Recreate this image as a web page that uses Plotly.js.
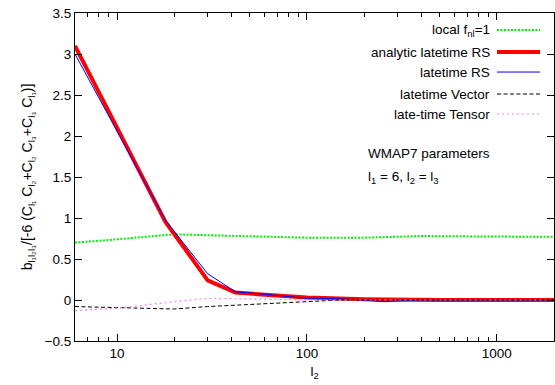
<!DOCTYPE html>
<html><head><meta charset="utf-8">
<script src="https://cdn.plot.ly/plotly-3.0.1.min.js"></script>
<style>body{margin:0;padding:0;background:#fff}#plot{width:555px;height:385px}</style>
</head><body><div id="plot"></div>
<script>
// data
const localL = [6, 8, 10, 14, 20, 30, 50, 100, 200, 400, 800, 2000];
const localV = [0.70, 0.72, 0.74, 0.77, 0.80, 0.79, 0.78, 0.76, 0.76, 0.78, 0.775, 0.77];
const anaL = [6, 18, 30, 42, 60, 100, 200, 500, 2000];
const anaV = [3.1, 0.95, 0.24, 0.09, 0.065, 0.03, 0.01, 0.0, 0.0];
const rsL = [6, 18, 30, 42, 60, 100, 130, 180, 250, 400, 1000, 2000];
const rsV = [3.0, 0.97, 0.32, 0.10, 0.07, 0.02, 0.02, 0.005, -0.02, 0.0, 0.0, 0.0];
const vecL = [6, 10, 20, 30, 60, 100, 150, 300, 2000];
const vecV = [-0.08, -0.09, -0.11, -0.08, -0.05, -0.02, 0.0, 0.0, 0.0];
const tenL = [6, 10, 20, 30, 60, 100, 200, 2000];
const tenV = [-0.13, -0.10, -0.02, 0.02, 0.01, 0.0, 0.0, 0.0];
const xTicks = [10, 100, 1000];
const xTickText = ["10", "100", "1000"];
const names = ["local f<sub>nl</sub>=1", "analytic latetime RS", "latetime RS", "latetime Vector", "late-time Tensor"];

const FS = 13.5;
const traces = [
  {x: localL, y: localV, mode: 'lines', line: {color: '#00ee00', width: 2, dash: '2px,1.5px'}},
  {x: anaL, y: anaV, mode: 'lines', line: {color: '#ff0000', width: 4}},
  {x: rsL, y: rsV, mode: 'lines', line: {color: '#0000ff', width: 1}},
  {x: vecL, y: vecV, mode: 'lines', line: {color: '#000000', width: 1, dash: '4px,2.5px'}},
  {x: tenL, y: tenV, mode: 'lines', line: {color: '#ee82ee', width: 1.2, dash: '2px,3px'}}
].map((t, i) => Object.assign(t, {name: names[i], showlegend: false, hoverinfo: 'skip'}));

const rowY = [0.948, 0.881, 0.820, 0.753, 0.692];
const annotations = names.map((n, i) => ({
  xref: 'paper', yref: 'paper', x: 0.871, y: rowY[i], xanchor: 'right', yanchor: 'middle',
  text: n, showarrow: false, font: {size: FS, color: '#000'}
}));
annotations.push({xref: 'paper', yref: 'paper', x: 0.608, y: 0.573, xanchor: 'left', yanchor: 'middle',
  text: 'WMAP7 parameters', showarrow: false, font: {size: FS, color: '#000'}});
annotations.push({xref: 'paper', yref: 'paper', x: 0.608, y: 0.497, xanchor: 'left', yanchor: 'middle',
  text: 'l<sub>1</sub> = 6, l<sub>2</sub> = l<sub>3</sub>', showarrow: false, font: {size: FS, color: '#000'}});

const shapes = traces.map((t, i) => ({
  type: 'line', xref: 'paper', yref: 'paper', x0: 0.881, x1: 0.971, y0: rowY[i], y1: rowY[i],
  line: t.line
}));

const layout = {
  width: 555, height: 385,
  margin: {l: 75, r: 1, t: 13, b: 44},
  paper_bgcolor: '#fff', plot_bgcolor: '#fff',
  font: {family: 'Liberation Sans, Arial, sans-serif', size: FS, color: '#000'},
  xaxis: {
    type: 'log', range: [Math.log10(6), Math.log10(2000)],
    tickvals: xTicks, ticktext: xTickText,
    ticks: 'inside', ticklen: 7, tickcolor: '#000', mirror: 'ticks',
    minor: {ticks: 'inside', ticklen: 4, tickcolor: '#000', dtick: 'D1'},
    showline: true, linecolor: '#000', linewidth: 1, showgrid: false, zeroline: false,
    title: {text: 'l<sub>2</sub>', standoff: 6, font: {size: FS}}
  },
  yaxis: {
    range: [-0.5, 3.5], dtick: 0.5, tick0: 0,
    ticks: 'inside', ticklen: 7, tickcolor: '#000', mirror: 'ticks',
    showline: true, linecolor: '#000', linewidth: 1, showgrid: false, zeroline: false,
    title: {text: 'b<sub>l₁l₂l₃</sub>/[-6 (C<sub>l₁</sub> C<sub>l₂</sub>+C<sub>l₂</sub> C<sub>l₃</sub>+C<sub>l₃</sub> C<sub>l₁</sub>)]', standoff: 8, font: {size: 14}}
  },
  annotations: annotations,
  shapes: shapes
};
Plotly.newPlot('plot', traces, layout, {displayModeBar: false, staticPlot: true});
</script></body></html>
